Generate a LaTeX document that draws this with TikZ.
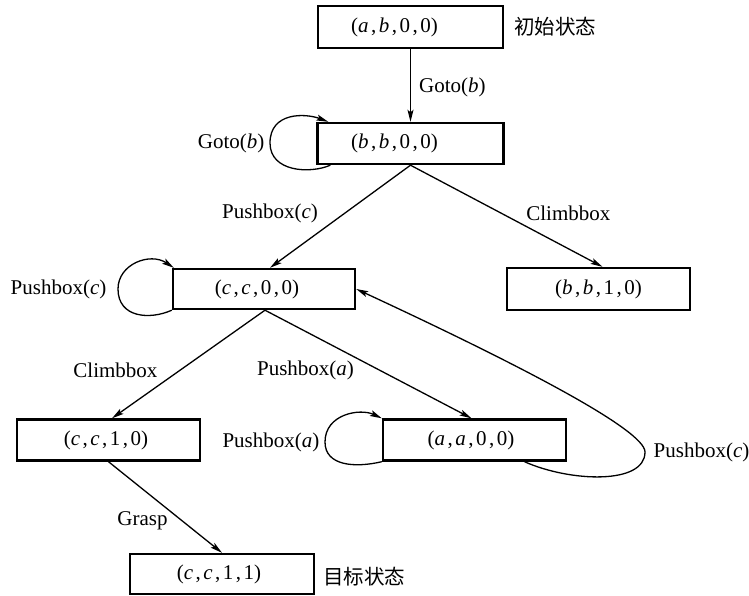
\documentclass[tikz,border=0pt]{standalone}
\usepackage{fontspec}
\setmainfont{Liberation Serif}
\newfontfamily\cjk{Noto Sans CJK SC}
\usetikzlibrary{arrows.meta,calc}
% state tuple with spaced commas
\newcommand{\tpl}[4]{(#1\kern2.5pt,\kern2.5pt#2\kern2.5pt,\kern2.5pt#3\kern2.5pt,\kern2.5pt#4)}
\begin{document}
\begin{tikzpicture}[x=1pt,y=1pt,
  statebox/.style={draw, line width=2.4pt, minimum width=183pt, minimum height=41pt,
    inner sep=0pt, font=\fontsize{21}{24}\selectfont},
  edge/.style={line width=1.3pt, -{Stealth[length=12pt,width=6pt,inset=2.5pt]}},
  lbl/.style={font=\fontsize{21}{24}\selectfont, inner sep=0pt}]
\useasboundingbox (0,0) rectangle (749,-596);

% states
\node[statebox, minimum width=185pt, minimum height=42pt] (b1) at (410.5,-27)
  {\tpl{\textit{a}}{\textit{b}}{0}{0}\hspace*{32pt}};
\node[statebox, minimum width=186pt] (b2) at (410.5,-143.5)
  {\tpl{\textit{b}}{\textit{b}}{0}{0}\hspace*{32pt}};
\node[statebox, minimum width=182pt, minimum height=40pt] (b3) at (264,-289)
  {\tpl{\textit{c}}{\textit{c}}{0}{0}\hspace*{14pt}};
\node[statebox, minimum height=42pt] (b4) at (598.5,-289)
  {\tpl{\textit{b}}{\textit{b}}{1}{0}};
\node[statebox] (b5) at (108.5,-440)
  {\tpl{\textit{c}}{\textit{c}}{1}{0}\hspace*{5pt}};
\node[statebox] (b6) at (474.5,-440)
  {\tpl{\textit{a}}{\textit{a}}{0}{0}\hspace*{7pt}};
\node[statebox, minimum width=184pt, minimum height=40pt] (b7) at (222,-574)
  {\tpl{\textit{c}}{\textit{c}}{1}{1}\hspace*{6pt}};

% side notes
\node[lbl, anchor=west, font=\fontsize{20.5}{24}\selectfont\cjk] (n1) at ($(b1.east)+(10,0)$) {初始状态};
\node[lbl, anchor=west, font=\fontsize{20.5}{24}\selectfont\cjk] (n7) at ($(b7.east)+(8,-3)$) {目标状态};

% transitions
\draw[edge] (b1.south) -- (b2.north)
  node[lbl, midway, anchor=west, xshift=8pt, yshift=-2pt] {Goto(\textit{b})};

\draw[edge] ($(b2.south west)+(14,0)$) .. controls (310,-174) and (270,-172) ..
  (270,-143) node[lbl, left=5pt] {Goto(\textit{b})}
  .. controls (270,-112) and (305,-113) .. ($(b2.north west)+(12,0)$);

\draw[edge] (b2.south) -- ($(b3.north)+(6,0)$)
  node[lbl, pos=0.47, anchor=east, xshift=-26pt] {Pushbox(\textit{c})};
\draw[edge] (b2.south) -- ($(b4.north)+(4,0)$)
  node[lbl, pos=0.47, anchor=west, xshift=25pt] {Climbbox};

\draw[edge] (b3.south west) .. controls (150,-320) and (118,-318) ..
  (118,-289) node[lbl, left=11pt] {Pushbox(\textit{c})}
  .. controls (118,-264) and (150,-252) .. ($(b3.north west)+(2,0)$);

\draw[edge] ($(b3.south)+(1,0)$) -- ($(b5.north)+(3.5,0)$)
  node[lbl, pos=0.555, anchor=east, xshift=-22pt] {Climbbox};
\draw[edge] ($(b3.south)+(1,0)$) -- ($(b6.north)+(-3,0)$)
  node[lbl, pos=0.555, anchor=east, xshift=-25pt] {Pushbox(\textit{a})};

\draw[edge] (b6.south west) .. controls (355,-468) and (325,-466) ..
  (325,-442) node[lbl, left=5pt] {Pushbox(\textit{a})}
  .. controls (325,-414) and (360,-408) .. (b6.north west);

\draw[edge] ($(b6.south)+(50,0)$) .. controls (570,-482) and (645,-485) ..
  (645,-452) node[lbl, right=8pt] {Pushbox(\textit{c})}
  .. controls (645,-430) and (520,-365) .. (b3.east);

\draw[edge] (b5.south) -- (b7.north)
  node[lbl, pos=0.65, anchor=east, xshift=-14pt] {Grasp};
\end{tikzpicture}
\end{document}
